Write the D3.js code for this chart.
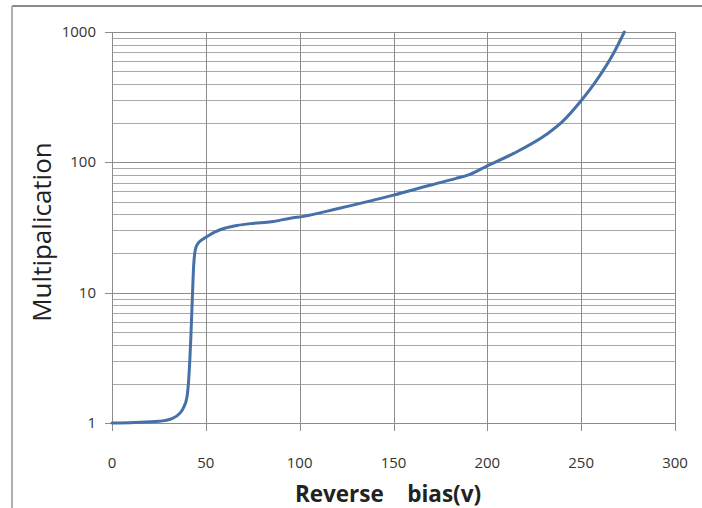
<!DOCTYPE html>
<html><head><meta charset="utf-8">
<script src="https://cdn.jsdelivr.net/npm/d3@7"></script>
<style>body{margin:0;background:#fff}svg{display:block}</style>
</head><body>
<svg id="c" width="702" height="508"></svg>
<script>
const biasV = [0, 12, 25, 32, 36.2, 38, 40, 41, 42, 42.8, 43.5, 44.3, 45.5, 48, 50, 55, 60, 66.7, 75, 85, 95, 102, 120, 150, 170, 183, 190, 200, 214, 231.6, 240, 249.4, 258.2, 267.1, 273];
const multiplication = [1.0, 1.01, 1.03, 1.08, 1.19, 1.3, 1.6, 2.3, 4.5, 9, 16, 21, 23.5, 25.5, 26.6, 29.3, 31.2, 32.8, 34.0, 35, 37.3, 38.5, 44, 56, 67, 75, 80, 94, 117, 164, 205, 290, 425, 680, 1000];
const xTicks = [0, 50, 100, 150, 200, 250, 300];
const yTicks = [1, 10, 100, 1000];
const xTitle = "Reverse\u00a0\u00a0\u00a0\u00a0bias(v)";
const yTitle = "Multipalication";

const svg = d3.select("#c");
const L = 112, R = 675, T = 32, B = 423;
const x = d3.scaleLinear().domain([0, 300]).range([L, R]);
const y = d3.scaleLog().domain([1, 1000]).range([B, T]);

// frame
svg.append("line").attr("x1",12).attr("x2",702).attr("y1",6).attr("y2",6).attr("stroke","#8a8a8a").attr("stroke-width",2);
svg.append("line").attr("x1",12).attr("x2",12).attr("y1",6).attr("y2",508).attr("stroke","#b0b0b0").attr("stroke-width",2);

const font = "'Open Sans', 'DejaVu Sans', sans-serif";
// minor y grid
const minor = [];
for (let d = 1; d < 1000; d *= 10) for (let k = 2; k <= 9; k++) minor.push(d * k);
svg.append("g").selectAll("line").data(minor).join("line")
  .attr("x1", L).attr("x2", R).attr("y1", d => Math.round(y(d)) + 0.5).attr("y2", d => Math.round(y(d)) + 0.5)
  .attr("stroke", "#a8a8a8").attr("stroke-width", 1);
// major y grid
svg.append("g").selectAll("line").data(yTicks).join("line")
  .attr("x1", L - 7).attr("x2", R).attr("y1", d => Math.round(y(d)) + 0.5).attr("y2", d => Math.round(y(d)) + 0.5)
  .attr("stroke", "#8c8c8c").attr("stroke-width", 1);
// x grid
svg.append("g").selectAll("line").data(xTicks).join("line")
  .attr("x1", d => Math.round(x(d)) + 0.5).attr("x2", d => Math.round(x(d)) + 0.5).attr("y1", T).attr("y2", B + 8)
  .attr("stroke", "#8c8c8c").attr("stroke-width", 1);

// tick labels
svg.append("g").selectAll("text").data(xTicks).join("text")
  .attr("x", d => x(d)).attr("y", 468).attr("text-anchor", "middle")
  .attr("font-family", font).attr("font-size", 15).attr("fill", "#333").text(d => d);
svg.append("g").selectAll("text").data(yTicks).join("text")
  .attr("x", 96).attr("y", d => y(d) + 5).attr("text-anchor", "end")
  .attr("font-family", font).attr("font-size", 15).attr("fill", "#333").text(d => d);

// titles
svg.append("text").attr("x", 388).attr("y", 502).attr("text-anchor", "middle")
  .attr("font-family", font).attr("font-weight", "bold").attr("font-size", 22.5).attr("fill", "#222").text(xTitle);
svg.append("text").attr("transform", "translate(51,232) rotate(-90)").attr("text-anchor", "middle")
  .attr("font-family", font).attr("font-size", 26).attr("fill", "#222").text(yTitle);

// curve
const pts = biasV.map((v, i) => [v, multiplication[i]]);
svg.append("path").datum(pts)
  .attr("d", d3.line().x(d => x(d[0])).y(d => y(d[1])).curve(d3.curveMonotoneX))
  .attr("fill", "none").attr("stroke", "#4570a8").attr("stroke-width", 3).attr("stroke-linecap", "round");
</script>
</body></html>
